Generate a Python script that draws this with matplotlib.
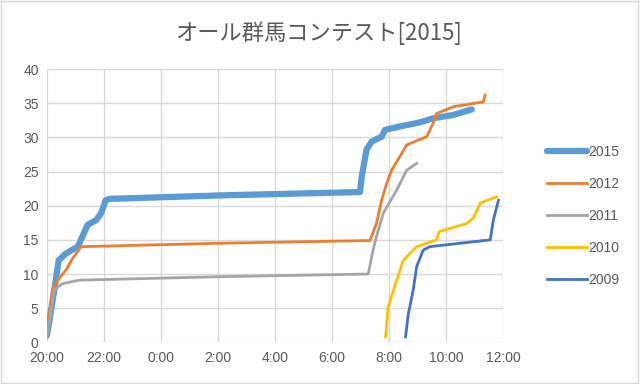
import matplotlib
matplotlib.use('Agg')
import matplotlib.pyplot as plt

# 経過時間 (20:00 からの時間) と 交信数
h2015 = [0.0, 0.26, 0.41, 0.67, 1.08, 1.43, 1.73, 1.9, 2.06, 2.2, 6.0, 10.98,
         11.04, 11.21, 11.39, 11.74, 11.86, 12.38, 13.08, 13.55, 14.26, 14.9]
v2015 = [1.0, 7.7, 12.0, 13.0, 14.0, 17.2, 17.9, 18.9, 20.8, 21.0, 21.5, 22.0,
         24.2, 28.2, 29.4, 30.1, 31.1, 31.6, 32.2, 32.8, 33.3, 34.1]

h2012 = [0.0, 0.2, 0.38, 0.67, 0.9, 1.2, 6.0, 11.33, 11.56, 11.74, 11.92, 12.09,
         12.38, 12.62, 13.32, 13.55, 13.67, 14.26, 15.31, 15.37]
v2012 = [1.5, 7.9, 9.1, 10.6, 12.3, 14.0, 14.5, 14.9, 17.4, 20.8, 23.3, 25.2,
         27.2, 28.9, 30.1, 32.1, 33.5, 34.5, 35.2, 36.2]

h2011 = [0.0, 0.26, 0.55, 1.14, 6.0, 11.27, 11.44, 11.56, 11.8, 12.27, 12.62, 12.97]
v2011 = [0.8, 7.7, 8.6, 9.1, 9.6, 10.0, 13.5, 15.5, 18.9, 22.3, 25.2, 26.2]

h2010 = [11.88, 11.97, 12.27, 12.5, 12.97, 13.67, 13.76, 14.73, 14.96, 15.2, 15.78]
v2010 = [0.8, 5.2, 9.1, 12.0, 14.0, 15.0, 16.2, 17.4, 18.2, 20.4, 21.3]

h2009 = [12.58, 12.68, 12.85, 12.97, 13.2, 13.43, 15.55, 15.66, 15.84]
v2009 = [0.8, 4.2, 7.7, 11.1, 13.5, 14.0, 15.0, 17.9, 20.8]

tick_hours = [0, 2, 4, 6, 8, 10, 12, 14, 16]
tick_labels = ["20:00", "22:00", "0:00", "2:00", "4:00", "6:00", "8:00", "10:00", "12:00"]

TXT = '#595959'

fig = plt.figure(figsize=(6.4, 3.84), dpi=100)
ax = fig.add_axes([0.0734, 0.1086, 0.7126, 0.7114])

ax.plot(h2015, v2015, color='#5B9BD5', lw=4.5, solid_capstyle='round', label='2015')
ax.plot(h2012, v2012, color='#ED7D31', lw=2.0, label='2012')
ax.plot(h2011, v2011, color='#A5A5A5', lw=2.0, label='2011')
ax.plot(h2010, v2010, color='#FFC000', lw=2.0, label='2010')
ax.plot(h2009, v2009, color='#4472C4', lw=2.0, label='2009')

ax.set_xlim(0, 16)
ax.set_ylim(0, 40)
ax.set_xticks(tick_hours)
ax.set_xticklabels(tick_labels)
ax.set_yticks(range(0, 41, 5))
ax.grid(True, color='#D9D9D9', lw=1.0)
ax.set_axisbelow(True)
for s in ax.spines.values():
    s.set_visible(False)
ax.tick_params(length=0, colors=TXT, labelsize=10, pad=6)
for lab in ax.get_xticklabels() + ax.get_yticklabels():
    lab.set_family('Liberation Sans')

fig.text(0.497, 0.913, "オール群馬コンテスト[2015]", ha='center', va='center',
         fontsize=16, color=TXT, family=['Noto Sans CJK JP', 'DejaVu Sans'])

leg = fig.legend(loc='center left', bbox_to_anchor=(0.835, 0.438), frameon=False,
                 handlelength=2.9, handletextpad=0.1, labelspacing=1.3,
                 prop={'family': 'Liberation Sans', 'size': 10})
for t in leg.get_texts():
    t.set_color(TXT)

fig.patches.append(plt.Rectangle((0.002, 0.003), 0.995, 0.994, transform=fig.transFigure,
                                 fill=False, edgecolor='#D9D9D9', lw=1))

plt.savefig('out.png', dpi=100)
